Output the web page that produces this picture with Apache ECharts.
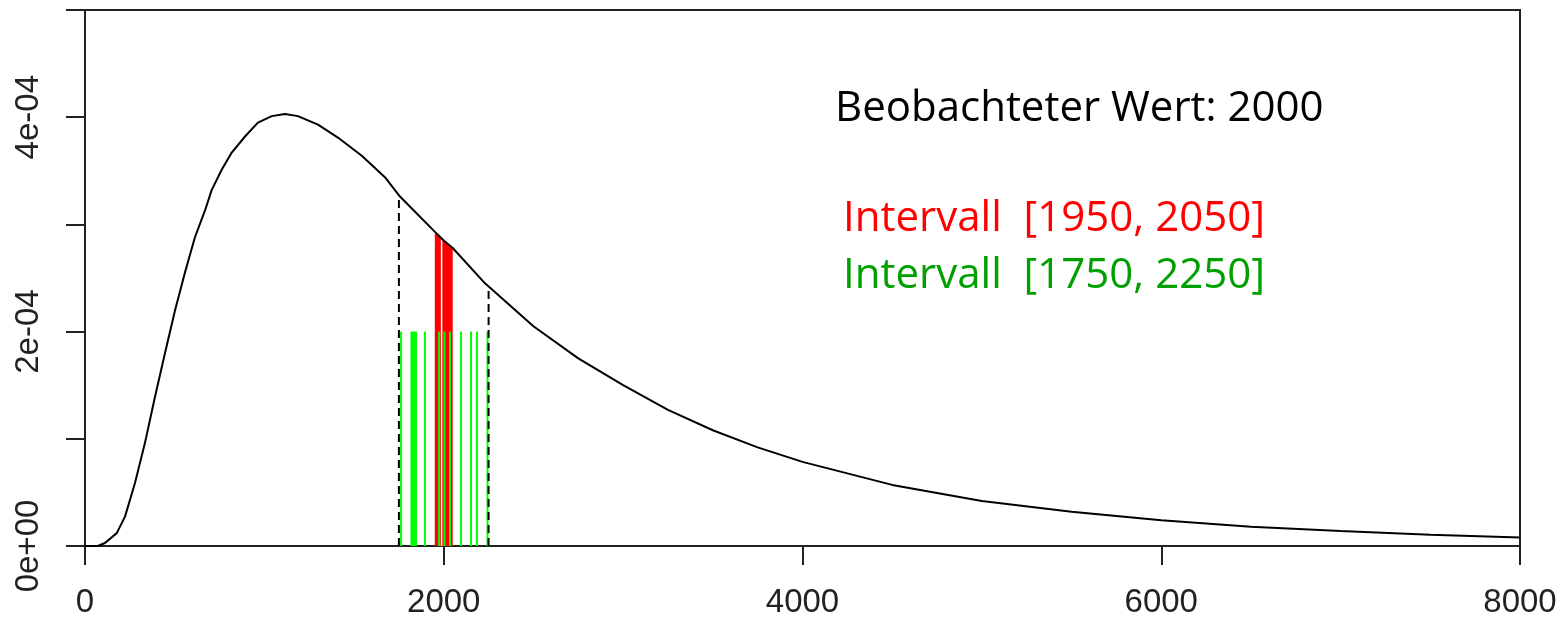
<!DOCTYPE html>
<html>
<head>
<meta charset="utf-8">
<script src="https://cdn.jsdelivr.net/npm/echarts@6/dist/echarts.min.js"></script>
<style>
  html, body { margin: 0; padding: 0; background: #fff; }
  #chart { width: 1565px; height: 620px; }
</style>
</head>
<body>
<div id="chart"></div>
<script>
// Density curve (x, density)
const curveX = [0, 72, 111, 177, 223, 279, 334, 390, 446, 502, 557, 613, 669, 706, 762, 818, 892, 964, 1041, 1115, 1187, 1299, 1410, 1543, 1672, 1756, 1951, 2000, 2050, 2230, 2500, 2750, 3000, 3250, 3500, 3750, 4000, 4500, 5000, 5500, 6000, 6500, 7000, 7500, 8000];
const curveY = [0, 0, 0.028e-4, 0.12e-4, 0.274e-4, 0.59e-4, 0.96e-4, 1.39e-4, 1.80e-4, 2.20e-4, 2.55e-4, 2.88e-4, 3.13e-4, 3.32e-4, 3.51e-4, 3.67e-4, 3.82e-4, 3.95e-4, 4.01e-4, 4.03e-4, 4.01e-4, 3.93e-4, 3.81e-4, 3.64e-4, 3.44e-4, 3.26e-4, 2.93e-4, 2.85e-4, 2.78e-4, 2.45e-4, 2.05e-4, 1.75e-4, 1.50e-4, 1.27e-4, 1.08e-4, 0.92e-4, 0.785e-4, 0.57e-4, 0.42e-4, 0.32e-4, 0.24e-4, 0.18e-4, 0.14e-4, 0.105e-4, 0.08e-4];

// Narrow interval [1950, 2050], shaded under the curve
const redX = [1950, 2000, 2050];
const redY = [2.92e-4, 2.85e-4, 2.78e-4];
const gapX = [1988];
const gapTop = [2.86e-4];

// Wide interval [1750, 2250] bounds (dashed) and observations inside it
const dashX = [1750, 2250];
const dashTop = [3.23e-4, 2.41e-4];
const greenX = [1762, 1820, 1828, 1836, 1845, 1895, 1974, 2004, 2035, 2096, 2152, 2185, 2244];
const greenTop = 2e-4;

// Axis ticks
const xTicks = [0, 2000, 4000, 6000, 8000];
const yLabelValues = [0, 2e-4, 4e-4];
const yLabelTexts = ['0e+00', '2e-04', '4e-04'];

// Annotation texts
const noteTitle = 'Beobachteter Wert: 2000';
const noteRed = 'Intervall  [1950, 2050]';
const noteGreen = 'Intervall  [1750, 2250]';

const curveData = curveX.map((x, i) => [x, curveY[i]]);
const redData = redX.map((x, i) => [x, redY[i]]);

function segments(xs, tops) {
  return xs.map((x, i) => [x, Array.isArray(tops) ? tops[i] : tops]);
}

function vlineRenderer(color, width, dash) {
  return function (params, api) {
    const p0 = api.coord([api.value(0), 0]);
    const p1 = api.coord([api.value(0), api.value(1)]);
    return {
      type: 'line',
      shape: { x1: p0[0], y1: p0[1], x2: p1[0], y2: p1[1] },
      style: { stroke: color, lineWidth: width, lineDash: dash || null },
      silent: true
    };
  };
}

const axisFont = { fontFamily: 'Liberation Sans, Arial, sans-serif', fontSize: 33, color: '#222' };
const noteFont = '42px "Open Sans", sans-serif';

const chart = echarts.init(document.getElementById('chart'), null, { renderer: 'canvas' });
chart.setOption({
  animation: false,
  grid: { left: 85, right: 45, top: 10, bottom: 74, show: true, borderColor: '#222', borderWidth: 2, backgroundColor: 'transparent' },
  xAxis: {
    type: 'value', min: 0, max: 8000, interval: 2000,
    splitLine: { show: false },
    axisLine: { show: true, onZero: false, lineStyle: { color: '#222', width: 2 } },
    axisTick: { show: true, inside: false, length: 19, lineStyle: { color: '#222', width: 2 } },
    axisLabel: Object.assign({ margin: 40, formatter: v => xTicks.includes(v) ? String(v) : '' }, axisFont)
  },
  yAxis: {
    type: 'value', min: 0, max: 5e-4, interval: 1e-4,
    splitLine: { show: false },
    axisLine: { show: true, lineStyle: { color: '#222', width: 2 } },
    axisTick: { show: true, inside: false, length: 19, lineStyle: { color: '#222', width: 2 } },
    axisLabel: Object.assign({
      margin: 40, rotate: 90,
      formatter: v => {
        const k = yLabelValues.findIndex(t => Math.abs(t - v) < 1e-9);
        return k >= 0 ? yLabelTexts[k] : '';
      }
    }, axisFont)
  },
  series: [
    {
      type: 'line', data: redData, symbol: 'none', silent: true, z: 2,
      lineStyle: { width: 0 }, areaStyle: { color: '#ff0000', opacity: 1 }
    },
    { type: 'custom', data: segments(gapX, gapTop), renderItem: vlineRenderer('#ffffff', 1.5), z: 3 },
    { type: 'custom', data: segments(greenX, greenTop), renderItem: vlineRenderer('#00ff00', 2), z: 4 },
    { type: 'custom', data: segments(dashX, dashTop), renderItem: vlineRenderer('#000000', 2, [8, 5]), z: 5 },
    {
      type: 'line', data: curveData, symbol: 'none', smooth: false, silent: true, z: 6,
      lineStyle: { color: '#000', width: 2 }
    }
  ],
  graphic: [
    { type: 'text', x: 835, y: 109, style: { text: noteTitle, font: noteFont, fill: '#000', verticalAlign: 'middle' } },
    { type: 'text', x: 843, y: 219, style: { text: noteRed, font: noteFont, fill: '#ff0000', verticalAlign: 'middle' } },
    { type: 'text', x: 843, y: 276, style: { text: noteGreen, font: noteFont, fill: '#00a000', verticalAlign: 'middle' } }
  ]
});
</script>
</body>
</html>
